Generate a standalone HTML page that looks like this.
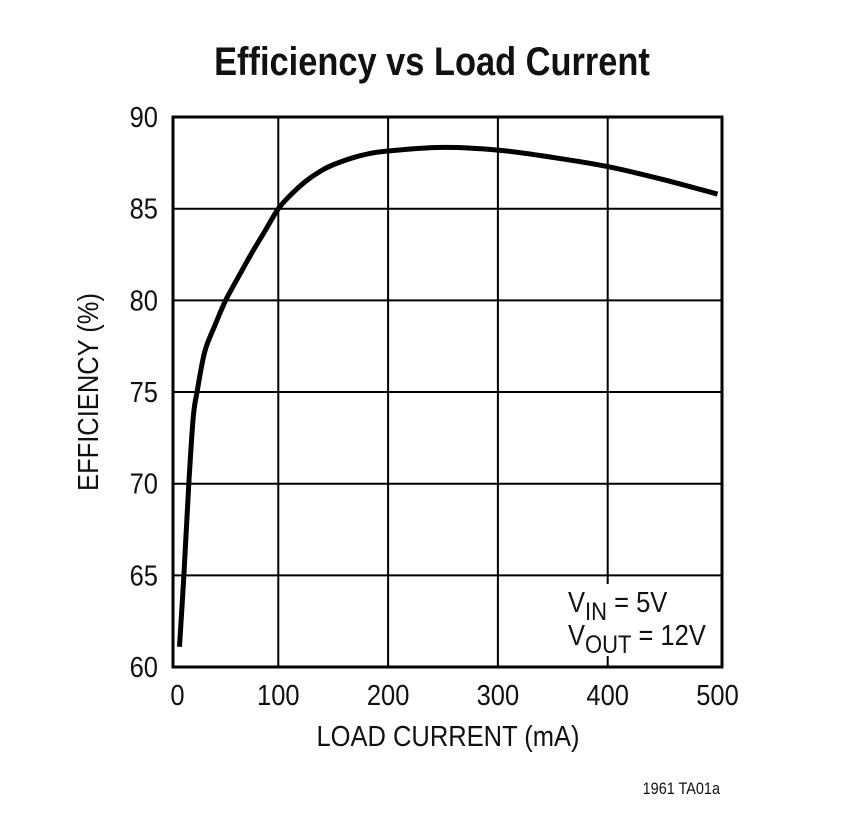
<!DOCTYPE html>
<html><head><meta charset="utf-8"><style>
body{margin:0;background:#fff;}
svg text{font-family:"Liberation Sans",sans-serif;fill:#111;}
</style></head><body>
<svg width="845" height="810" viewBox="0 0 845 810" xmlns="http://www.w3.org/2000/svg">
<text x="432" y="75" text-anchor="middle" font-size="40" font-weight="bold" transform="translate(432,0) scale(0.86,1) translate(-432,0)">Efficiency vs Load Current</text>
<g id="grid"></g>
<path id="curve" fill="none" stroke="#000" stroke-width="5" stroke-linejoin="round" stroke-linecap="butt"/>
<rect x="173" y="117" width="549" height="550" fill="none" stroke="#000" stroke-width="3"/>
<g id="xticks"></g>
<g id="yticks"></g>
<text x="448" y="746" text-anchor="middle" font-size="29" transform="translate(448,0) scale(0.88,1) translate(-448,0)">LOAD CURRENT (mA)</text>
<text x="0" y="0" text-anchor="middle" font-size="29" transform="translate(98,392) rotate(-90) scale(0.88,1)">EFFICIENCY (%)</text>
<rect x="560" y="584" width="140" height="72" fill="#fff"/>
<text x="568" y="612" font-size="29" transform="translate(568,0) scale(0.88,1) translate(-568,0)">V<tspan font-size="25" dy="8">IN</tspan><tspan dy="-8"> = 5V</tspan></text>
<text x="568" y="645" font-size="29" transform="translate(568,0) scale(0.88,1) translate(-568,0)">V<tspan font-size="25" dy="8">OUT</tspan><tspan dy="-8"> = 12V</tspan></text>
<text x="720" y="794" text-anchor="end" font-size="17" transform="translate(720,0) scale(0.85,1) translate(-720,0)">1961 TA01a</text>
</svg>
<script>
const xTicks=[0,100,200,300,400,500];
const yTicks=[60,65,70,75,80,85,90];
const loadCurrent=[10,14,18.5,22.5,26,33,42,52,62,75,88,100,112,125,137,150,175,200,250,300,350,400,450,500];
const efficiency=[61.1,65,70,73.6,75,77.2,78.6,80,81.1,82.5,83.8,85,85.8,86.5,87,87.4,87.9,88.15,88.35,88.2,87.8,87.3,86.6,85.8];
const NS="http://www.w3.org/2000/svg";
function xs(v){return 168.5+v*1.098;}
function ys(v){return 667-(v-60)*18.33;}
const grid=document.getElementById('grid');
xTicks.forEach(function(t){
  if(t>0&&t<500){const l=document.createElementNS(NS,'line');
  
  
  l.setAttribute('x1',xs(t));l.setAttribute('x2',xs(t));l.setAttribute('y1',117);l.setAttribute('y2',667);
  l.setAttribute('stroke','#000');l.setAttribute('stroke-width','2');grid.appendChild(l);}
  const tx=document.createElementNS(NS,'text');
  
  
  const px=xs(t)+(t===0?9:0);
  tx.setAttribute('x',px);tx.setAttribute('y',705);tx.setAttribute('text-anchor','middle');tx.setAttribute('font-size','29');
  tx.setAttribute('transform','translate('+px+',0) scale(0.88,1) translate('+(-px)+',0)');
  tx.textContent=t;document.getElementById('xticks').appendChild(tx);
});
yTicks.forEach(function(t){
  if(t>60&&t<90){const l=document.createElementNS(NS,'line');
  
  
  l.setAttribute('x1',173);l.setAttribute('x2',722);l.setAttribute('y1',ys(t));l.setAttribute('y2',ys(t));
  l.setAttribute('stroke','#000');l.setAttribute('stroke-width','2');grid.appendChild(l);}
  const tx=document.createElementNS(NS,'text');
  
  
  tx.setAttribute('x',158);tx.setAttribute('y',ys(t)+10);tx.setAttribute('text-anchor','end');tx.setAttribute('font-size','29');
  tx.setAttribute('transform','translate(158,0) scale(0.88,1) translate(-158,0)');
  tx.textContent=t;document.getElementById('yticks').appendChild(tx);
});
const pts=loadCurrent.map(function(v,i){return [xs(v),ys(efficiency[i])];});
let d='M'+pts[0][0]+','+pts[0][1];
for(let i=0;i<pts.length-1;i++){
  const p0=pts[i-1]||pts[i],p1=pts[i],p2=pts[i+1],p3=pts[i+2]||p2;
  const c1=[p1[0]+(p2[0]-p0[0])/6,p1[1]+(p2[1]-p0[1])/6];
  const c2=[p2[0]-(p3[0]-p1[0])/6,p2[1]-(p3[1]-p1[1])/6];
  d+=' C'+c1[0]+','+c1[1]+' '+c2[0]+','+c2[1]+' '+p2[0]+','+p2[1];
}
document.getElementById('curve').setAttribute('d',d);
</script>
</body></html>
